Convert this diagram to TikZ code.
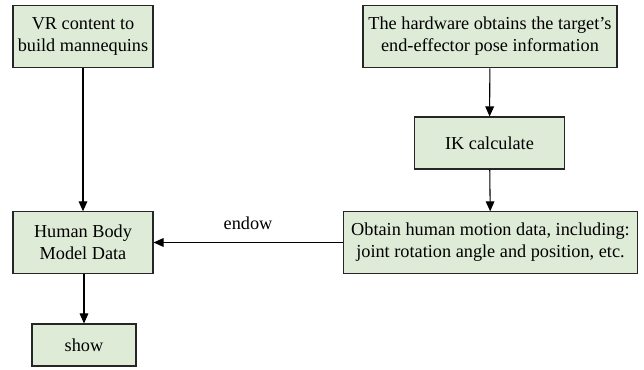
\documentclass[tikz,border=0pt]{standalone}
\usepackage{fontspec}
\setmainfont{Liberation Serif}
\usetikzlibrary{arrows.meta}
\definecolor{boxgreen}{RGB}{222,235,215}

\begin{document}
\begin{tikzpicture}[x=0.75pt,y=-0.75pt,
	every node/.style={black,font=\fontsize{13.7}{16.5}\selectfont},
	box/.style={draw=black!85,fill=boxgreen,line width=0.8pt,align=center,inner sep=1pt},
	flow/.style={line width=0.8pt,-{Triangle[width=6.5pt,length=7.5pt]}}]
	\useasboundingbox (0,0) rectangle (644,370);

	\node[box,minimum width=105pt,minimum height=47pt] (VR) at (83,36.5) {VR content to\\build mannequins};
	\node[box,minimum width=190.5pt,minimum height=47pt] (HW) at (490,36.5) {The hardware obtains the target's\\end-effector pose information};
	\node[box,minimum width=112pt,minimum height=39pt] (IK) at (489.5,143) {IK calculate};
	\node[box,minimum width=105pt,minimum height=46pt] (HB) at (83,242.5) {Human Body\\Model Data};
	\node[box,minimum width=221pt,minimum height=46pt] (MD) at (490.5,242.5) {Obtain human motion data, including:\\joint rotation angle and position, etc.};
	\node[box,minimum width=78pt,minimum height=31.5pt] (SH) at (84,345) {show};

	\draw[flow] (VR) -- (HB);
	\draw[flow] (HW) -- (IK);
	\draw[flow] (IK) -- (MD);
	\draw[flow] (MD) -- node[above=6pt] {endow} (HB);
	\draw[flow] (HB.south -| SH.north) -- (SH);
\end{tikzpicture}
\end{document}
